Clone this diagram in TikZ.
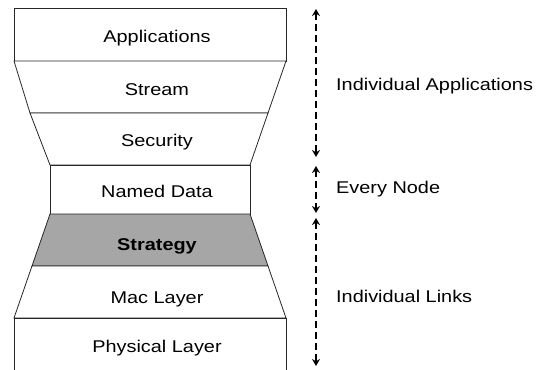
\documentclass[tikz,border=0pt]{standalone}
\usepackage{fontspec}
\setmainfont{Liberation Sans}[FakeStretch=1.17]
\usepackage{tikz}
\usetikzlibrary{arrows.meta, positioning}
\tikzset{>={Stealth[width=8pt,length=7pt]}}
\definecolor{stratgray}{RGB}{166,166,166}
\tikzset{
  layer/.style = {draw=black!85, line width=0.8pt, fill=white},
  txt/.style = {anchor=base, inner sep=0pt, font=\fontsize{17}{20}\selectfont},
  span/.style = {<->, line width=2pt, dash pattern=on 7pt off 4pt},
}

\begin{document}
\begin{tikzpicture}[x=1pt, y=-1pt]
		\useasboundingbox (0,0) rectangle (545,369);
		% the stack, top to bottom
		\draw[layer] (14,8) rectangle (286,61);
		\draw[layer] (14,61) -- (286,61) -- (268,113) -- (30,113) -- cycle;
		\draw[layer] (30,113) -- (268,113) -- (250,165) -- (50,165) -- cycle;
		\draw[layer] (50,165) rectangle (250,214);
		\draw[layer, fill=stratgray] (50,214) -- (250,214) -- (268,266) -- (32,266) -- cycle;
		\draw[layer] (32,266) -- (268,266) -- (286,318) -- (14,318) -- cycle;
		\draw[layer] (14,372) -- (14,318) -- (286,318) -- (286,372);
		\node (app) [txt] at (157,43) {Applications};
		\node (stream) [txt] at (157,95) {Stream};
		\node (sec) [txt] at (157,146) {Security};
		\node (ndn) [txt] at (157,197) {Named Data};
		\node (strat) [txt] at (157,250) {\bfseries Strategy};
		\node (mac) [txt] at (157,303) {Mac Layer};
		\node (phy) [txt] at (157,352) {Physical Layer};
		% scopes
		\coordinate (t1) at (316,9);
		\coordinate (b1) at (316,157);
		\coordinate (t2) at (316,166);
		\coordinate (b2) at (316,213);
		\coordinate (t3) at (316,218);
		\coordinate (b3) at (316,366);
		\draw[span] (t1) -- (b1);
		\draw[span] (t2) -- (b2);
		\draw[span] (t3) -- (b3);
		\node (apps) [txt, anchor=base west] at (336,90) {Individual Applications};
		\node (every) [txt, anchor=base west] at (336,193) {Every Node};
		\node (links) [txt, anchor=base west] at (336,302) {Individual Links};
\end{tikzpicture}
\end{document}
